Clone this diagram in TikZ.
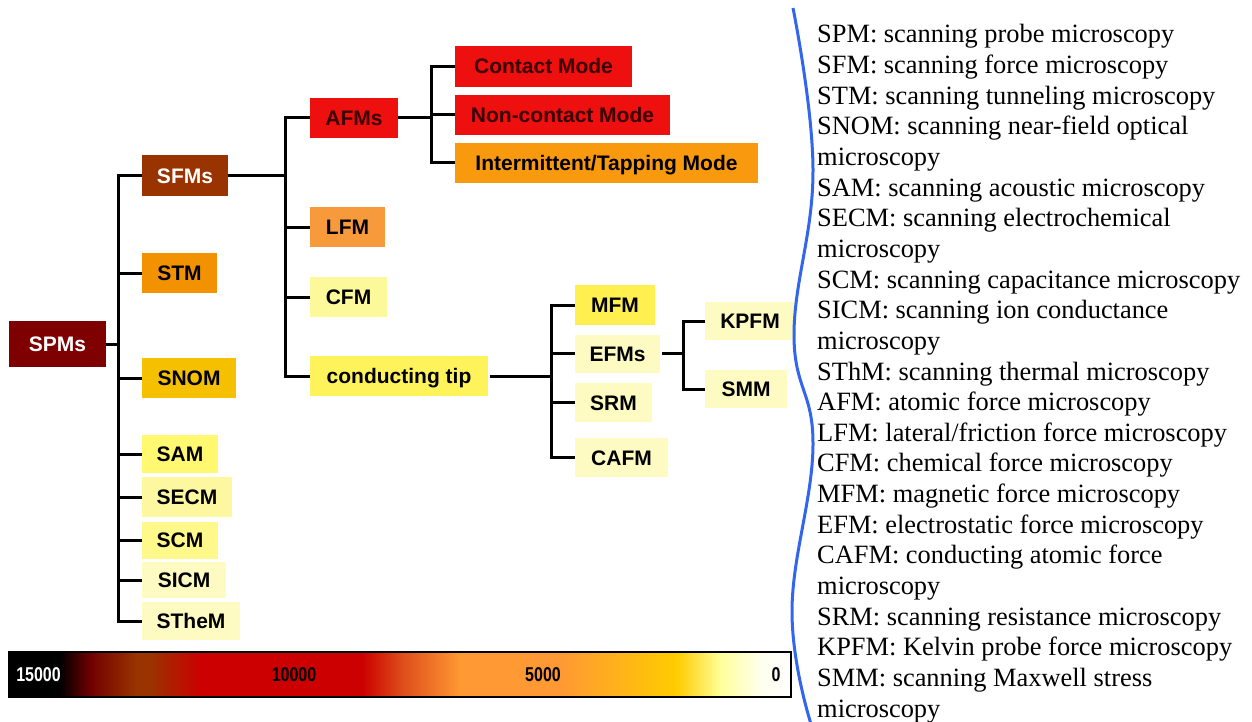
\documentclass[tikz,border=0pt]{standalone}
\usepackage{fontspec}
\setmainfont{Liberation Serif}
\newfontfamily\arialfont{Liberation Sans}
\newcommand\boxfont{\arialfont\bfseries\fontsize{21}{24}\selectfont}
\newcommand\barfont{\arialfont\bfseries\fontsize{20}{22}\selectfont}
\newcommand\rtfont{\fontsize{26.4}{30}\selectfont}
\definecolor{cSPM}{HTML}{7E0000}
\definecolor{cSFM}{HTML}{993300}
\definecolor{cRed}{HTML}{EE0F0F}
\definecolor{cTap}{HTML}{F99A0E}
\definecolor{cSTM}{HTML}{F39200}
\definecolor{cLFM}{HTML}{F79A3C}
\definecolor{cSNOM}{HTML}{F5C000}
\definecolor{cCFM}{HTML}{FCF99A}
\definecolor{cTip}{HTML}{FFF35C}
\definecolor{cMFM}{HTML}{FFF050}
\definecolor{cPale}{HTML}{FDFAC2}
\definecolor{cSAM}{HTML}{FFF870}
\definecolor{cSECM}{HTML}{FDF8A0}
\definecolor{cSCM}{HTML}{FFF88A}
\definecolor{cDark}{HTML}{3A0000}
\definecolor{cBlue}{HTML}{3366EE}
\definecolor{g1}{HTML}{700000}
\definecolor{g2}{HTML}{993300}
\definecolor{g3}{HTML}{CC0000}
\definecolor{g4}{HTML}{DD4A1A}
\definecolor{g5}{HTML}{FF9933}
\definecolor{g6}{HTML}{FFCC00}
\definecolor{g7}{HTML}{FFFF99}
\definecolor{g8}{HTML}{FFFFEE}
\tikzset{
  box/.style={rectangle, inner sep=0pt, text height=15pt, text depth=0pt, font=\boxfont, text=black},
  conn/.style={line width=3pt, black, line join=miter},
  barlabel/.style={font=\barfont, inner sep=0pt},
  rt/.style={anchor=base west, inner sep=0pt, font=\rtfont}
}
\begin{document}
\begin{tikzpicture}[x=1pt,y=-1pt]
\useasboundingbox (0,0) rectangle (1252,722);
\fill[white] (0,0) rectangle (1252,722);

% level 0 and 1
\node[box, fill=cSPM, text=white, minimum width=97pt, minimum height=46pt] (spm) at (57.5,344) {SPMs};
\node[box, fill=cSFM, text=white, minimum width=86pt, minimum height=41pt] (sfm) at (185,175.5) {SFMs};
\node[box, fill=cSTM, minimum width=75pt, minimum height=40pt] (stm) at (179.5,273) {STM};
\node[box, fill=cSNOM, minimum width=94pt, minimum height=40pt] (snom) at (189,378) {SNOM};
\node[box, fill=cSAM, minimum width=76pt, minimum height=38pt] (sam) at (180,454) {SAM};
\node[box, fill=cSECM, minimum width=90pt, minimum height=40pt] (secm) at (187,497) {SECM};
\node[box, fill=cSCM, minimum width=76pt, minimum height=37pt] (scm) at (180,540) {SCM};
\node[box, fill=cPale, minimum width=84pt, minimum height=36pt] (sicm) at (184,580) {SICM};
\node[box, fill=cPale, minimum width=98pt, minimum height=38pt] (sthm) at (191,621) {STheM};

% level 2
\node[box, fill=cRed, text=cDark, minimum width=88pt, minimum height=40pt] (afm) at (354,118) {AFMs};
\node[box, fill=cLFM, minimum width=75pt, minimum height=40pt] (lfm) at (347.5,227) {LFM};
\node[box, fill=cCFM, minimum width=77pt, minimum height=40pt] (cfm) at (348.5,297) {CFM};
\node[box, fill=cTip, minimum width=178pt, minimum height=40pt] (ctip) at (399,376) {conducting tip};

% level 3
\node[box, fill=cRed, text=cDark, minimum width=177pt, minimum height=41pt] (cont) at (543.5,66.5) {Contact Mode};
\node[box, fill=cRed, text=cDark, minimum width=215pt, minimum height=40pt] (ncont) at (562.5,115) {Non-contact Mode};
\node[box, fill=cTap, minimum width=303pt, minimum height=40pt] (tap) at (606.5,163) {Intermittent/Tapping Mode};
\node[box, fill=cMFM, minimum width=80pt, minimum height=40pt] (mfm) at (615,305) {MFM};
\node[box, fill=cPale, minimum width=85pt, minimum height=38pt] (efm) at (617.5,353.5) {EFMs};
\node[box, fill=cPale, minimum width=77pt, minimum height=39pt] (srm) at (613.5,402.5) {SRM};
\node[box, fill=cPale, minimum width=93pt, minimum height=39pt] (cafm) at (621.5,457.5) {CAFM};

% level 4
\node[box, fill=cPale, minimum width=90pt, minimum height=38pt] (kpfm) at (750,321) {KPFM};
\node[box, fill=cPale, minimum width=82pt, minimum height=38pt] (smm) at (746,389) {SMM};

% connectors
\coordinate (b1) at (118,344);
\draw[conn] (spm.east) -- (b1);
\foreach \n in {sfm,stm,snom,sam,secm,scm,sicm,sthm} \draw[conn] (b1) |- (\n.west);
\coordinate (b2) at (285,175.5);
\draw[conn] (sfm.east) -- (b2);
\foreach \n in {afm,lfm,cfm,ctip} \draw[conn] (b2) |- (\n.west);
\coordinate (b3) at (431,118);
\draw[conn] (afm.east) -- (b3);
\foreach \n in {cont,ncont,tap} \draw[conn] (b3) |- (\n.west);
\coordinate (b4) at (551,376);
\draw[conn] ([xshift=2pt]ctip.east) -- (b4);
\foreach \n in {mfm,efm,srm,cafm} \draw[conn] (b4) |- (\n.west);
\coordinate (b5) at (683,353.5);
\draw[conn] ([xshift=2pt]efm.east) -- (b5);
\foreach \n in {kpfm,smm} \draw[conn] (b5) |- (\n.west);

% colour bar
\fill[black] (9,652) rectangle (60,697);
\shade[left color=black, right color=g1] (59.5,652) rectangle (90.5,697);
\shade[left color=g1, right color=g2] (90,652) rectangle (135.5,697);
\fill[g2] (135,652) rectangle (150.5,697);
\shade[left color=g2, right color=g3] (150,652) rectangle (200.5,697);
\fill[g3] (200,652) rectangle (362.5,697);
\shade[left color=g3, right color=g4] (362,652) rectangle (400.5,697);
\shade[left color=g4, right color=g5] (400,652) rectangle (460.5,697);
\fill[g5] (460,652) rectangle (560.5,697);
\shade[left color=g5, right color=g6] (560,652) rectangle (677.5,697);
\shade[left color=g6, right color=g7] (677,652) rectangle (720.5,697);
\shade[left color=g7, right color=g8] (720,652) rectangle (760.5,697);
\shade[left color=g8, right color=white] (760,652) rectangle (791,697);
\draw[line width=2pt] (9,652) rectangle (791,697);
\node[barlabel, text=white] (l15) at (38.5,675) {\scalebox{0.8}[1]{15000}};
\node[barlabel] (l10) at (294,675) {\scalebox{0.8}[1]{10000}};
\node[barlabel] (l5) at (543,675) {\scalebox{0.8}[1]{5000}};
\node[barlabel] (l0) at (776,675) {\scalebox{0.8}[1]{0}};

% blue wavy line
\draw[cBlue, line width=3pt] plot[smooth, tension=0.7] coordinates {(793,8) (813,170) (794,335) (813,445) (792,610) (811,724)};

% legend text
\foreach \t [count=\i] in {
SPM: scanning probe microscopy,
SFM: scanning force microscopy,
STM: scanning tunneling microscopy,
SNOM: scanning near-field optical,
microscopy,
SAM: scanning acoustic microscopy,
SECM: scanning electrochemical,
microscopy,
SCM: scanning capacitance microscopy,
SICM: scanning ion conductance,
microscopy,
SThM: scanning thermal microscopy,
AFM: atomic force microscopy,
LFM: lateral/friction force microscopy,
CFM: chemical force microscopy,
MFM: magnetic force microscopy,
EFM: electrostatic force microscopy,
CAFM: conducting atomic force,
microscopy,
SRM: scanning resistance microscopy,
KPFM: Kelvin probe force microscopy,
SMM: scanning Maxwell stress,
microscopy}
  \node[rt] (r\i) at (817,{43+30.64*(\i-1)}) {\t};
\end{tikzpicture}
\end{document}
